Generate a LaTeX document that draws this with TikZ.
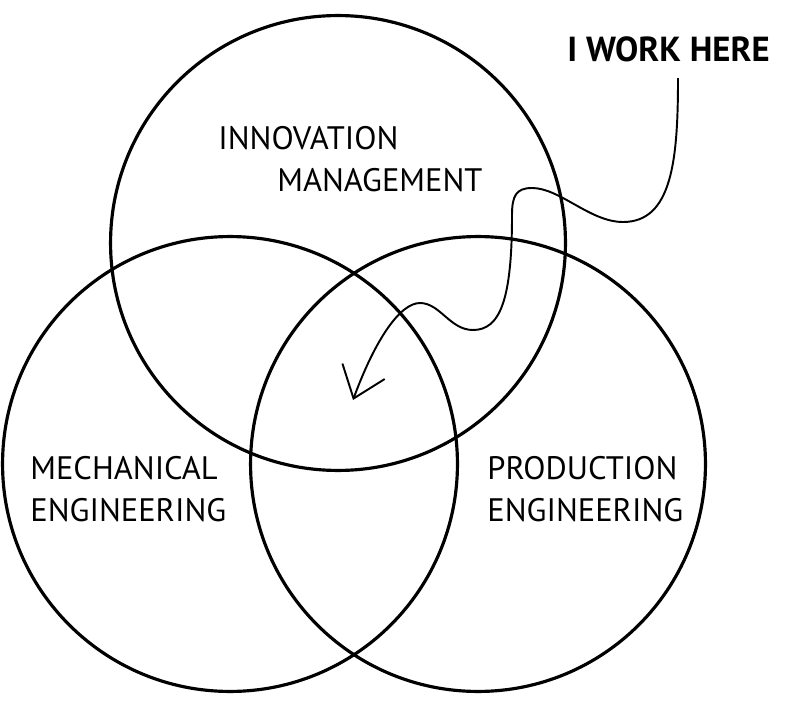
\documentclass[tikz,border=0pt]{standalone}
\usepackage{fontspec}
\setmainfont{PT Sans}
\usetikzlibrary{arrows.meta,positioning}

\begin{document}
\begin{tikzpicture}[
    x=0.02cm, y=-0.02cm,
    ring/.style={draw, circle, minimum size=9.1cm, inner sep=0pt, line width=1.8pt},
    field/.style={align=left, font=\fontsize{18.5}{23.8}\selectfont, inner sep=0pt},
    callout/.style={font=\bfseries\fontsize{19.8}{24}\selectfont, inner sep=0pt},
    arrow/.style={line width=1.1pt, -{Straight Barb[length=5.8mm, width=9mm, line width=1.1pt]}}
]
    \useasboundingbox (0,0) rectangle (800,702);
    % Draw circles
    \node (innov) [ring] at (338,243) {};
    \node (mech) [ring] at (230,464) {};
    \node (prod) [ring] at (478,464) {};

    % Draw labels
    \node (innovtext) [field, anchor=north west] at (218,126) {INNOVATION\\\hspace{1.18cm}MANAGEMENT};
    \node (mechtext) [field, anchor=north west] at (30,456) {MECHANICAL\\ENGINEERING};
    \node (prodtext) [field, anchor=north west] at (487,456) {PRODUCTION\\ENGINEERING};
    \node (here) [callout, anchor=north east] at (770,36) {I WORK HERE};
    \coordinate (spot) at (353,400);

    % Draw connection
    \draw [arrow] (here.south -| 678,0) ++(0,16)
        .. controls (678,160) and (672,222) .. (623,222)
        .. controls (590,222) and (560,188) .. (532,188)
        .. controls (516,188) and (512,196) .. (512,215)
        .. controls (512,300) and (500,330) .. (473,330)
        .. controls (450,330) and (440,303) .. (420,303)
        .. controls (400,303) and (375,340) .. (spot);
\end{tikzpicture}
\end{document}
